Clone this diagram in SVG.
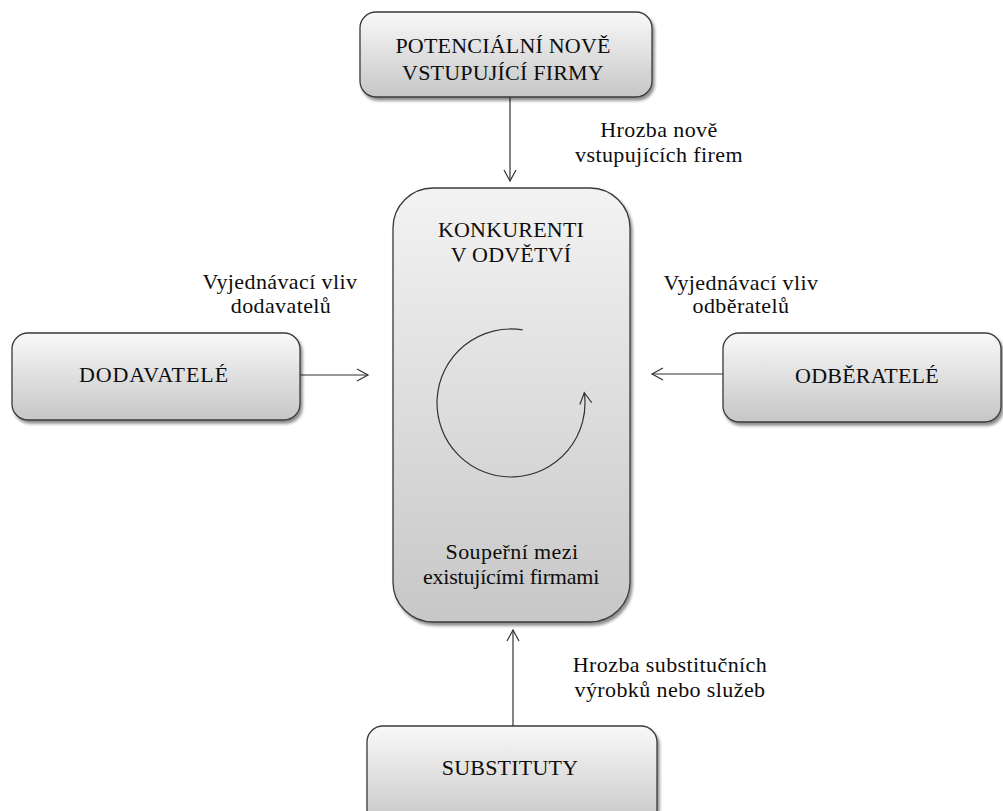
<svg xmlns="http://www.w3.org/2000/svg" width="1003" height="811" viewBox="0 0 1003 811">
  <style>
    .box { stroke: #3a3a3a; stroke-width: 1.3; fill: url(#g); filter: url(#sh); }
    .big { stroke: #3a3a3a; stroke-width: 1.3; fill: url(#g2); filter: url(#sh); }
    .t { font-family: "Liberation Serif", "Times New Roman", serif; font-size: 22px; fill: #0d0d0d; text-anchor: middle; letter-spacing: 0.4px; }
    .u { letter-spacing: 0.2px; }
    .w { letter-spacing: 0.9px; }
    .n { letter-spacing: -0.2px; }
    .c { stroke: #333; stroke-width: 1.2; fill: none; }
  </style>
  <defs>
    <linearGradient id="g" x1="0" y1="0" x2="0" y2="1">
      <stop offset="0" stop-color="#f9f9f9"/>
      <stop offset="1" stop-color="#c6c6c6"/>
    </linearGradient>
    <linearGradient id="g2" x1="0" y1="0" x2="0" y2="1">
      <stop offset="0" stop-color="#f3f3f3"/>
      <stop offset="1" stop-color="#c7c7c7"/>
    </linearGradient>
    <filter id="sh" x="-10%" y="-10%" width="125%" height="125%">
      <feDropShadow dx="2" dy="3" stdDeviation="1.6" flood-color="#000" flood-opacity="0.45"/>
    </filter>
    <marker id="a2" viewBox="0 0 14 14" refX="12" refY="7" markerWidth="14" markerHeight="14" markerUnits="userSpaceOnUse" orient="auto">
      <path d="M1,1 L12,7 L1,13" fill="none" stroke="#333" stroke-width="1.2"/>
    </marker>
  </defs>

  <g id="connectors">
    <line class="c" x1="510" y1="97" x2="510" y2="181" marker-end="url(#a2)"/>
    <line class="c" x1="300" y1="375" x2="368" y2="375" marker-end="url(#a2)"/>
    <line class="c" x1="723" y1="374" x2="652" y2="374" marker-end="url(#a2)"/>
    <line class="c" x1="513" y1="726" x2="513" y2="630" marker-end="url(#a2)"/>
  </g>

  <g id="node-konkurenti">
    <rect class="big" x="393" y="188" width="237" height="434" rx="40" ry="40"/>
    <text class="t u" x="511" y="237">KONKURENTI</text>
    <text class="t u" x="511" y="262">V ODVĚTVÍ</text>
    <path class="c" d="M522.6,329.9 A74,74 0 1,0 584.3,392.7" marker-end="url(#a2)"/>
    <text class="t" x="512" y="559">Soupeřní mezi</text>
    <text class="t n" x="511" y="584">existujícími firmami</text>
  </g>

  <g id="node-potencialni">
    <rect class="box" x="360" y="12" width="292" height="85" rx="16" ry="16"/>
    <text class="t u" x="503" y="53">POTENCIÁLNÍ NOVĚ</text>
    <text class="t u" x="503" y="80">VSTUPUJÍCÍ FIRMY</text>
  </g>

  <g id="node-dodavatele">
    <rect class="box" x="12" y="333" width="288" height="87" rx="16" ry="16"/>
    <text class="t w" x="154" y="382">DODAVATELÉ</text>
  </g>

  <g id="node-odberatele">
    <rect class="box" x="723" y="333" width="278" height="89" rx="16" ry="16"/>
    <text class="t u" x="867" y="383">ODBĚRATELÉ</text>
  </g>

  <g id="node-substituty">
    <rect class="box" x="367" y="726" width="290" height="100" rx="16" ry="16"/>
    <text class="t u" x="510" y="775">SUBSTITUTY</text>
  </g>

  <g id="labels">
    <text class="t" x="659" y="137">Hrozba nově</text>
    <text class="t" x="659" y="162">vstupujících firem</text>
    <text class="t" x="280" y="289">Vyjednávací vliv</text>
    <text class="t" x="281" y="313">dodavatelů</text>
    <text class="t" x="741" y="290">Vyjednávací vliv</text>
    <text class="t" x="741" y="313">odběratelů</text>
    <text class="t" x="670" y="672">Hrozba substitučních</text>
    <text class="t" x="670" y="697">výrobků nebo služeb</text>
  </g>
</svg>
